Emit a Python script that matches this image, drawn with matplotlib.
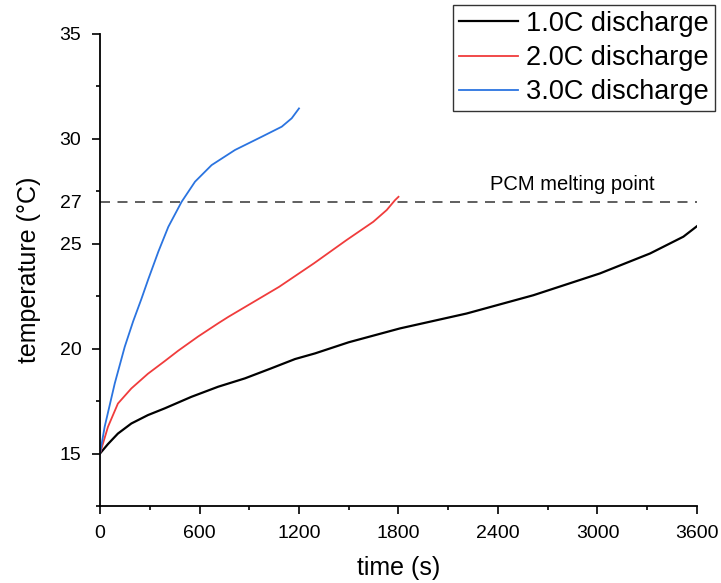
import matplotlib
matplotlib.use("Agg")
import matplotlib.pyplot as plt
from matplotlib.ticker import MultipleLocator

plt.rcParams['font.family'] = ['Liberation Sans', 'DejaVu Sans']

# Temperature rise of the cell at three discharge rates
t_1c = [0, 48, 108, 189, 289, 390, 551, 712, 874, 1030, 1176, 1297, 1500, 1809, 2211,
        2613, 3015, 3317, 3518, 3600]
T_1c = [15.0, 15.45, 15.95, 16.43, 16.83, 17.15, 17.70, 18.18, 18.58, 19.05, 19.50, 19.77,
        20.30, 20.96, 21.67, 22.54, 23.58, 24.53, 25.33, 25.83]

t_2c = [0, 48, 108, 189, 289, 390, 472, 591, 712, 774, 1080, 1290, 1487, 1648, 1729, 1779, 1800]
T_2c = [15.0, 16.27, 17.38, 18.10, 18.80, 19.40, 19.90, 20.57, 21.20, 21.51, 22.94, 24.06,
        25.17, 26.04, 26.60, 27.07, 27.23]

t_3c = [0, 28, 89, 149, 200, 249, 291, 352, 412, 492, 573, 673, 814, 975, 1096, 1156, 1200]
T_3c = [15.0, 16.27, 18.34, 20.08, 21.30, 22.35, 23.30, 24.62, 25.80, 26.99, 27.95, 28.74,
        29.46, 30.09, 30.57, 30.97, 31.44]

series_labels = ['1.0C discharge', '2.0C discharge', '3.0C discharge']
melting_point = 27
melting_label = 'PCM melting point'

x_ticks = [0, 600, 1200, 1800, 2400, 3000, 3600]
y_ticks = [15, 20, 25, melting_point, 30, 35]

fig = plt.figure(figsize=(7.21, 5.83), dpi=100)
ax = fig.add_axes([0.1387, 0.1321, 0.828, 0.8101])

ax.plot(t_1c, T_1c, color='black', lw=1.6, label=series_labels[0])
ax.plot(t_2c, T_2c, color='#f03c3c', lw=1.3, label=series_labels[1])
ax.plot(t_3c, T_3c, color='#2b74e0', lw=1.3, label=series_labels[2])

ax.axhline(melting_point, color='#444444', lw=1.2, linestyle=(0, (6, 4.5)))
ax.text(2850, melting_point + 0.35, melting_label, ha='center', va='bottom', fontsize=14.5)

ax.set_xlim(0, 3600)
ax.set_ylim(12.5, 35)
ax.set_xticks(x_ticks)
ax.set_yticks(y_ticks)
ax.xaxis.set_minor_locator(MultipleLocator(300))
ax.yaxis.set_minor_locator(MultipleLocator(2.5))

for s in ['top', 'right']:
    ax.spines[s].set_visible(False)
for s in ['left', 'bottom']:
    ax.spines[s].set_linewidth(1.3)

ax.tick_params(which='major', direction='out', length=6, width=1.2, labelsize=14)
ax.tick_params(axis='x', which='major', pad=8)
ax.tick_params(axis='y', which='major', pad=7.5)
ax.tick_params(which='minor', direction='out', length=3, width=1.2)
# the melting point label carries no tick mark
ax.yaxis.get_major_ticks()[y_ticks.index(melting_point)].tick1line.set_visible(False)

ax.set_xlabel('time (s)', fontsize=18, labelpad=10)
ax.set_ylabel('temperature (°C)', fontsize=18, labelpad=13)

leg = ax.legend(loc='upper right', bbox_to_anchor=(0.9917, 0.9914),
                bbox_transform=fig.transFigure, fontsize=19.5, frameon=True,
                fancybox=False, edgecolor='black', borderaxespad=0,
                handlelength=2.2, handletextpad=0.3, labelspacing=0.3,
                borderpad=0.22)
leg.get_frame().set_linewidth(1.0)

fig.savefig('out.png', dpi=100)
